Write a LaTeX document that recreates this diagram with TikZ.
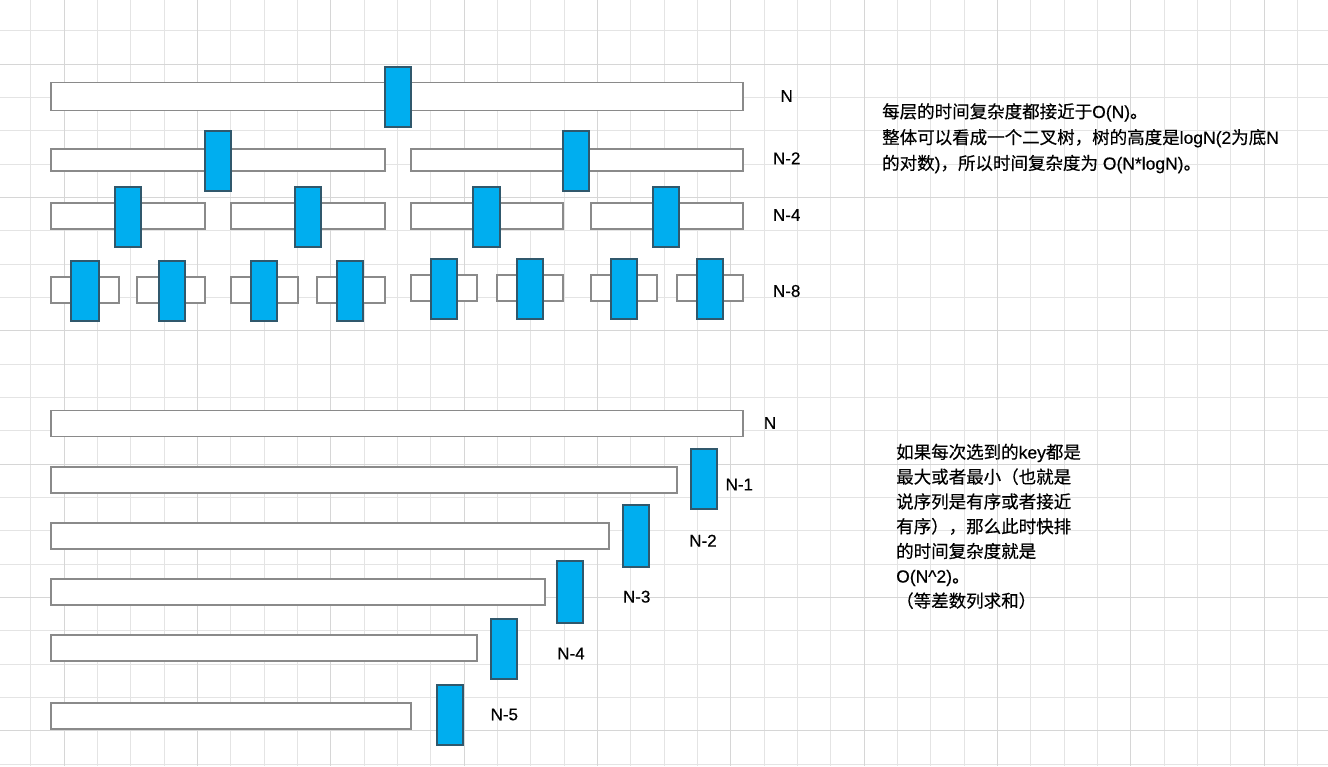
\documentclass[tikz,border=0pt]{standalone}
\usepackage{fontspec}
\setmainfont{Liberation Sans}
\newfontfamily\cjk[FakeBold=0.4]{Noto Sans CJK SC}
\newfontfamily\latn[FakeBold=0.4]{Liberation Sans}
\newcommand\la[1]{{\latn #1}}
\definecolor{keyblue}{RGB}{0,174,239}
\definecolor{keyedge}{RGB}{48,88,108}
\definecolor{segedge}{RGB}{138,138,138}
\definecolor{gridminor}{RGB}{228,228,228}
\definecolor{gridmajor}{RGB}{214,214,214}
\begin{document}
\begin{tikzpicture}[x=1pt, y=-1pt,
      seg/.style={draw=segedge, fill=white, line width=1.3pt, inner sep=0pt, minimum height=26pt},
      pivot/.style={draw=keyedge, fill=keyblue, line width=1.1pt, inner sep=0pt, minimum width=26pt, minimum height=60pt},
      lbl/.style={font=\fontsize{17}{20}\latn, inner sep=0pt},
      note/.style={align=left, inner sep=0pt, anchor=north west}]
    % canvas and grid
    \useasboundingbox (0,0) rectangle (1328,766);
    \fill[white] (0,0) rectangle (1328,766);
    \foreach \k in {0,...,38}
      \draw[gridminor, line width=0.8pt] ({30.67+33.333*\k},0) -- ({30.67+33.333*\k},766);
    \foreach \k in {0,...,22}
      \draw[gridminor, line width=0.8pt] (0,{30.67+33.333*\k}) -- (1328,{30.67+33.333*\k});
    \foreach \k in {0,...,9}
      \draw[gridmajor, line width=0.8pt] ({64+133.333*\k},0) -- ({64+133.333*\k},766);
    \foreach \k in {0,...,5}
      \draw[gridmajor, line width=0.8pt] (0,{64+133.333*\k}) -- (1328,{64+133.333*\k});

    % balanced split
    \node[seg, minimum width=692pt, minimum height=28pt] (r0) at (397,96.7) {};
    \node[pivot] (p0) at (398,97) {};
    \node[seg, minimum width=334pt, minimum height=22pt] (r1a) at (218,160) {};
    \node[seg, minimum width=332pt, minimum height=22pt] (r1b) at (577,160) {};
    \node[pivot] (p1a) at (218,161) {};
    \node[pivot] (p1b) at (576,161) {};
    \node[seg, minimum width=154pt] (r2a) at (128,216) {};
    \node[seg, minimum width=154pt] (r2b) at (308,216) {};
    \node[seg, minimum width=152pt] (r2c) at (487,216) {};
    \node[seg, minimum width=152pt] (r2d) at (667,216) {};
    \node[pivot] (p2a) at (128,217) {};
    \node[pivot] (p2b) at (308,217) {};
    \node[pivot, minimum width=27pt] (p2c) at (486.5,217) {};
    \node[pivot] (p2d) at (666,217) {};
    \node[seg, minimum width=68pt] (r3a) at (85,290) {};
    \node[seg, minimum width=68pt] (r3b) at (171,290) {};
    \node[seg, minimum width=67pt] (r3c) at (264.5,290) {};
    \node[seg, minimum width=68pt] (r3d) at (351,290) {};
    \node[seg, minimum width=66pt] (r3e) at (444,288) {};
    \node[seg, minimum width=66pt] (r3f) at (530,288) {};
    \node[seg, minimum width=66pt] (r3g) at (624,288) {};
    \node[seg, minimum width=66pt] (r3h) at (710,288) {};
    \node[pivot, minimum width=28pt] (p3a) at (85,291) {};
    \node[pivot] (p3b) at (172,291) {};
    \node[pivot] (p3c) at (264,291) {};
    \node[pivot] (p3d) at (350,291) {};
    \node[pivot] (p3e) at (444,289) {};
    \node[pivot] (p3f) at (530,289) {};
    \node[pivot] (p3g) at (624,289) {};
    \node[pivot] (p3h) at (710,289) {};
    \node[lbl] (t0) at (786.7,96) {N};
    \node[lbl] (t1) at (786.7,158.3) {N-2};
    \node[lbl] (t2) at (786.7,215) {N-4};
    \node[lbl] (t3) at (786.7,291) {N-8};
    \node[note, font=\fontsize{17.5}{25.8}\cjk] (best) at (882,103)
      {每层的时间复杂度都接近于\la{O(N)}。\\整体可以看成一个二叉树，树的高度是\la{logN(2}为底\la{N}\\的对数\la{)}，所以时间复杂度为\la{ O(N*logN)}。};

    % worst case
    \node[seg, minimum width=692pt] (w0) at (397,423.8) {};
    \node[seg, minimum width=626pt] (w1) at (364,480) {};
    \node[pivot] (q1) at (704,479) {};
    \node[seg, minimum width=558pt] (w2) at (330,536) {};
    \node[pivot, minimum height=62pt] (q2) at (636,536) {};
    \node[seg, minimum width=494pt] (w3) at (298,592) {};
    \node[pivot, minimum height=62pt] (q3) at (570,592) {};
    \node[seg, minimum width=426pt] (w4) at (264,648) {};
    \node[pivot] (q4) at (504,649) {};
    \node[seg, minimum width=360pt] (w5) at (231,716) {};
    \node[pivot] (q5) at (450,715) {};
    \node[lbl] (s0) at (770,423) {N};
    \node[lbl] (s1) at (739.3,484.5) {N-1};
    \node[lbl] (s2) at (703,540.7) {N-2};
    \node[lbl] (s3) at (636.7,596.7) {N-3};
    \node[lbl] (s4) at (571,653.5) {N-4};
    \node[lbl] (s5) at (504.3,714.5) {N-5};
    \node[note, font=\fontsize{17.5}{24.8}\cjk] (worst) at (896,443.5)
      {如果每次选到的\la{key}都是\\最大或者最小（也就是\\说序列是有序或者接近\\有序），那么此时快排\\的时间复杂度就是\\\la{O(N\textasciicircum2)}。\\（等差数列求和）};
  \end{tikzpicture}
\end{document}
